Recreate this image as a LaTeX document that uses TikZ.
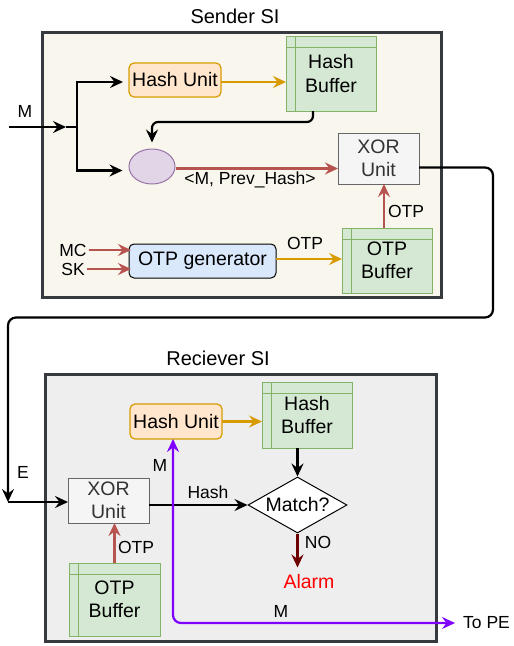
\documentclass[tikz,border=0pt]{standalone}
\usepackage{fontspec}
\setmainfont{Liberation Sans}
\usetikzlibrary{arrows.meta,shapes.geometric}
\definecolor{senderfill}{HTML}{F9F7ED}
\definecolor{recvfill}{HTML}{EEEEEE}
\definecolor{sidraw}{HTML}{36393D}
\definecolor{hufill}{HTML}{FFE6CC}
\definecolor{hudraw}{HTML}{D79B00}
\definecolor{buffill}{HTML}{D5E8D4}
\definecolor{bufdraw}{HTML}{82B366}
\definecolor{elfill}{HTML}{E1D5E7}
\definecolor{eldraw}{HTML}{9673A6}
\definecolor{xorfill}{HTML}{F5F5F5}
\definecolor{xordraw}{HTML}{666666}
\definecolor{xortext}{HTML}{333333}
\definecolor{genfill}{HTML}{DAE8FC}
\definecolor{redline}{HTML}{B85450}
\definecolor{darkred}{HTML}{6F0000}
\definecolor{purp}{HTML}{7F00FF}
\definecolor{alarmred}{HTML}{FF0000}
\newcommand\myNodeFont{\fontsize{19.5}{23.5}\selectfont}
\newcommand\myLabelFont{\fontsize{17.5}{21}\selectfont}
\newcommand\myTitleFont{\fontsize{20}{24}\selectfont}
\begin{document}
\begin{tikzpicture}[x=1pt,y=-1pt,
  dtip/.tip={Stealth[length=13pt,width=12pt,inset=4.5pt]},
  sibox/.style={draw=sidraw, line width=3pt, inner sep=0pt, outer sep=0pt},
  title/.style={font=\myTitleFont, inner sep=0pt},
  box/.style={draw, line width=1pt, inner sep=0pt, outer sep=0pt, align=center, font=\myNodeFont},
  hashunit/.style={box, rounded corners=5pt, fill=hufill, draw=hudraw, line width=1.2pt},
  buffer/.style={box, fill=buffill, draw=bufdraw, line width=1pt,
    path picture={
      \draw[bufdraw, line width=1pt] ([xshift=9pt]path picture bounding box.north west) -- ([xshift=9pt]path picture bounding box.south west);
      \draw[bufdraw, line width=1pt] ([yshift=-11.5pt]path picture bounding box.north west) -- ([yshift=-11.5pt]path picture bounding box.north east);
    }},
  xorbox/.style={box, fill=xorfill, draw=xordraw, text=xortext},
  lbl/.style={font=\myLabelFont, inner sep=0pt},
  conn/.style={line width=2.2pt, -dtip},
  plain/.style={line width=2.2pt},
  blk/.style={conn, draw=black},
  orarrow/.style={conn, draw=hudraw},
  rdarrow/.style={conn, draw=redline},
]
\useasboundingbox (0,0) rectangle (514,646);

% ---------- Sender ----------
\node[sibox, fill=senderfill, minimum width=399pt, minimum height=265pt] (sbox) at (241.5,164.5) {};
\node[title] (stitle) at (235,16) {Sender SI};

\node[hashunit, minimum width=92pt, minimum height=34pt] (hu1) at (175,80) {Hash Unit};
\node[buffer, minimum width=90pt, minimum height=75pt] (hb1) at (331,73.5) {Hash\\Buffer};
\node[ellipse, draw=eldraw, fill=elfill, line width=1pt, minimum width=46pt, minimum height=35pt, inner sep=0pt] (ell) at (152,166.5) {};
\node[xorbox, minimum width=81pt, minimum height=51pt] (xor1) at (378.5,158.5) {XOR\\Unit};
\node[box, rounded corners=5pt, fill=genfill, draw=black, minimum width=147pt, minimum height=34pt] (gen) at (202.5,261) {OTP generator};
\node[buffer, minimum width=90pt, minimum height=65pt] (ob1) at (387,260.5) {OTP\\Buffer};

\node[lbl] (mlbl) at (25,111) {M};
\node[lbl] (mc) at (73,250) {MC};
\node[lbl] (sk) at (73,269) {SK};
\node[lbl] (hashlbl) at (250,180) {<M, Prev\_Hash>};
\node[lbl] (otpa) at (305,243) {OTP};
\node[lbl] (otpb) at (406,211) {OTP};

\coordinate (min) at (9,127);
\coordinate (mtip) at (66,127);
\coordinate (mj) at (77,127);
\draw[blk] (min) -- (mtip);
\draw[plain] (mtip) -- (mj);
\draw[blk, shorten >=6pt] (mj) |- ([yshift=-2pt]hu1.west);
\draw[blk, shorten >=6pt] (mj) |- ([yshift=-4pt]ell.west);
\draw[orarrow] ([yshift=-2pt]hu1.east) -- ([yshift=-2pt]hu1.east -| hb1.west);
\draw[blk, rounded corners=6pt, shorten >=6pt] ([xshift=-18pt]hb1.south) -- ++(0,11) -| (ell.north);
\draw[rdarrow] ([yshift=-2pt]ell.east) -- ([yshift=-2pt]ell.east -| xor1.west);
\draw[orarrow] ([yshift=2pt]gen.east) -- ([yshift=2pt]gen.east -| ob1.west);
\draw[rdarrow] ([xshift=-3pt]ob1.north) -- ([xshift=-3pt]ob1.north |- xor1.south);
\draw[rdarrow] ([xshift=2pt]mc.east) -- ([xshift=2pt]mc.east -| gen.west);
\draw[rdarrow] ([xshift=2pt]sk.east) -- ([xshift=2pt]sk.east -| gen.west);

% ---------- Receiver ----------
\node[sibox, fill=recvfill, minimum width=391pt, minimum height=267pt] (rbox) at (240.5,507.5) {};
\node[title] (rtitle) at (218,358) {Reciever SI};

\node[hashunit, minimum width=92pt, minimum height=35pt] (hu2) at (176,421.5) {Hash Unit};
\node[buffer, minimum width=90pt, minimum height=66pt] (hb2) at (307,415) {Hash\\Buffer};
\node[diamond, draw=black, fill=white, line width=1pt, minimum width=99pt, minimum height=56pt, aspect=1.77, inner sep=0pt, font=\myNodeFont] (dia) at (297.5,505) {Match?};
\node[xorbox, minimum width=81pt, minimum height=45pt] (xor2) at (108.5,500.5) {XOR\\Unit};
\node[buffer, minimum width=91pt, minimum height=73pt] (ob2) at (114.5,599.5) {OTP\\Buffer};

\node[lbl] (elbl) at (23,472) {E};
\node[lbl] (hlbl) at (208,492) {Hash};
\node[lbl] (otpc) at (136,547) {OTP};
\node[lbl] (nolbl) at (318,542) {NO};
\node[lbl, font=\myNodeFont, text=alarmred] (alarm) at (309,582) {Alarm};
\node[lbl] (m2) at (160,465) {M};
\node[lbl] (m3) at (281,611) {M};
\node[lbl, anchor=west] (tope) at (463,623) {To PE};

% E connection
\coordinate (e) at (8,502);
\draw[blk, rounded corners=8pt] ([yshift=-9pt]xor1.east) -- ++(74,0) -- ++(0,150) -| (e);
\draw[blk] (e) -- (e -| xor2.west);

\draw[orarrow] (hu2.east) -- (hu2.east -| hb2.west);
\draw[blk] (dia.north |- hb2.south) -- (dia.north);
\draw[blk] (xor2.east |- dia.west) -- (dia.west);
\draw[rdarrow] (ob2.north) -- (ob2.north |- xor2.south);
\draw[conn, draw=darkred] (dia.south) -- ++(0,34);

\coordinate (pc) at (173,623);
\draw[line width=2.2pt, draw=purp, dtip-dtip, rounded corners=8pt, shorten >=8pt] (pc |- hu2.south) -- (pc) -- (pc -| tope.west);
\end{tikzpicture}
\end{document}
